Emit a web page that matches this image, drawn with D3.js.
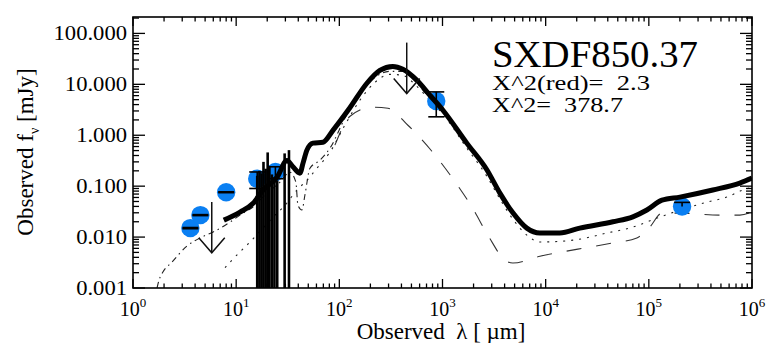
<!DOCTYPE html>
<html><head><meta charset="utf-8">
<script src="https://cdn.jsdelivr.net/npm/d3@7"></script>
<style>body{margin:0;background:#fff}svg{display:block}</style>
</head><body>
<svg id="c" width="766" height="343"></svg>
<script>
// ---------- data ----------
const xTicks = [1, 10, 100, 1000, 1e4, 1e5, 1e6];
const xTickExp = ["0","1","2","3","4","5","6"];
const yTicks = [0.001, 0.01, 0.1, 1, 10, 100];
const yTickLabels = ["0.001","0.010","0.100","1.000","10.000","100.000"];

// photometry (circles)
const photLambda = [3.6, 4.5, 8.0, 16, 24, 870, 2.1e5];
const photFlux   = [0.015, 0.027, 0.076, 0.14, 0.19, 4.7, 0.040];
const photErrHi  = [0.0004, 0.0006, 0.0015, 0.05, 0.05, 2.4, 0.008];
const photErrLo  = [0.0004, 0.0006, 0.0015, 0.05, 0.05, 2.4, 0];

// upper limits
const ulLambda = [5.8, 450];
const ulFlux   = [0.049, 66];

// IRS spectrum points
const specLambda = [16.0, 16.8, 17.6, 18.4, 19.3, 20.2, 21.0, 22.2, 23.5, 25.0, 29.5, 32.5];
const specFlux   = [0.07, 0.09, 0.08, 0.13, 0.10, 0.20, 0.11, 0.08, 0.07, 0.06, 0.20, 0.23];
const specErr    = [0.09, 0.11, 0.10, 0.17, 0.12, 0.26, 0.14, 0.09, 0.08, 0.07, 0.24, 0.28];

// total model (thick)
const totLambda = [7.6, 10.9, 14.6, 18.2, 24.9, 31.1, 35.5, 41.5, 44.4, 48.5, 55.5, 69.4, 86.7, 127, 185, 247, 330, 413, 565, 755, 1010, 1720, 2690, 3600, 4810, 6570, 8790, 13700, 21400, 44800, 70000, 95700, 134000, 200000, 417000, 762000, 1.0e6];
const totFlux   = [0.0215, 0.031, 0.046, 0.084, 0.15, 0.32, 0.24, 0.18, 0.28, 0.51, 0.70, 0.73, 1.25, 3.5, 10.5, 18.8, 22.5, 19.8, 12.0, 6.1, 3.1, 0.70, 0.21, 0.073, 0.030, 0.015, 0.012, 0.012, 0.015, 0.020, 0.025, 0.034, 0.053, 0.061, 0.084, 0.115, 0.144];

// dotted component
const dotLambda = [7.8, 9.3, 11.4, 13.6, 18.2, 23.8, 29.7, 38.8, 48.5, 60.7, 81.1, 113, 158, 221, 309, 413, 565, 755, 1010, 1720, 2690, 3600, 4810, 6570, 8790, 18400, 39200, 70000, 120000, 200000, 365000, 570000, 815000, 1.0e6];
const dotFlux   = [0.0025, 0.0037, 0.0056, 0.0080, 0.015, 0.027, 0.042, 0.084, 0.13, 0.225, 0.465, 1.57, 4.86, 10.9, 15.7, 15.0, 9.1, 4.9, 2.6, 0.56, 0.157, 0.056, 0.0225, 0.0109, 0.0080, 0.0087, 0.0120, 0.0157, 0.0236, 0.0338, 0.0485, 0.061, 0.084, 0.095];

// dashed component
const dashLambda = [90.6, 127, 207, 296, 462, 789, 1230, 1930, 2820, 4030, 4810, 8790, 20500, 43800, 76500, 102000, 134000, 200000, 487000, 762000, 1.0e6];
const dashFlux   = [0.64, 2.36, 3.54, 3.4, 1.57, 0.485, 0.150, 0.0387, 0.010, 0.00354, 0.0031, 0.0042, 0.0058, 0.0076, 0.0096, 0.0157, 0.0296, 0.0296, 0.027, 0.027, 0.031];

// dash-dot component
const ddLambda = [1.71, 1.79, 1.95, 2.39, 3.34, 4.46, 6.23, 8.71, 10.9, 15.2, 19.0, 26.6, 33.2, 37.9, 39.7, 43.4, 46.4, 51.9, 64.9, 81.1, 113, 158, 221, 309, 413, 565, 755, 1055];
const ddFlux   = [0.001, 0.00144, 0.00206, 0.00324, 0.0067, 0.0096, 0.0131, 0.0197, 0.027, 0.042, 0.067, 0.12, 0.188, 0.12, 0.042, 0.034, 0.067, 0.225, 0.324, 0.556, 2.15, 6.97, 13.7, 18.0, 18.0, 10.5, 5.3, 2.7];

const title = "SXDF850.37";
const chiRed = "X^2(red)=\u00a0\u00a02.3";
const chi = "X^2=\u00a0\u00a0378.7";

// ---------- drawing ----------
const FF = '"Liberation Serif", serif';
const svg = d3.select("#c");
const L = 133, R = 752, T = 17, B = 288;
const x = d3.scaleLog().domain([1, 1e6]).range([L, R]);
const y = d3.scaleLog().domain([0.001, 210]).range([B, T]).clamp(true);

svg.append("clipPath").attr("id","pc").append("rect")
  .attr("x", L).attr("y", T).attr("width", R-L).attr("height", B-T);
const plot = svg.append("g").attr("clip-path","url(#pc)");

const zip = (a,b) => a.map((v,i)=>[v,b[i]]);
const line = d3.line().x(d=>x(d[0])).y(d=>y(d[1])).curve(d3.curveMonotoneX);

plot.append("path").datum(zip(dashLambda,dashFlux)).attr("d",line)
  .attr("fill","none").attr("stroke","#333").attr("stroke-width",1.1).attr("stroke-dasharray","15,15");
plot.append("path").datum(zip(dotLambda,dotFlux)).attr("d",line)
  .attr("fill","none").attr("stroke","#222").attr("stroke-width",1.1).attr("stroke-dasharray","2,6");
plot.append("path").datum(zip(ddLambda,ddFlux)).attr("d",line)
  .attr("fill","none").attr("stroke","#222").attr("stroke-width",1.1).attr("stroke-dasharray","6,4,1.5,4");

// circles
plot.selectAll("circle.p").data(photLambda.map((l,i)=>({l,f:photFlux[i]}))).enter()
  .append("circle").attr("cx",d=>x(d.l)).attr("cy",d=>y(d.f)).attr("r",9.2).attr("fill","#0a7ff2");

// spectrum bars
plot.selectAll("line.s").data(specLambda.map((l,i)=>({l,f:specFlux[i],e:specErr[i]}))).enter()
  .append("line").attr("x1",d=>x(d.l)).attr("x2",d=>x(d.l))
  .attr("y1",d=>y(d.f+d.e)).attr("y2",d=>y(Math.max(d.f-d.e,1e-4)))
  .attr("stroke","#000").attr("stroke-width",2.6);

// total model
plot.append("path").datum(zip(totLambda,totFlux)).attr("d",line)
  .attr("fill","none").attr("stroke","#000").attr("stroke-width",5).attr("stroke-linejoin","round");

// error bars
const eb = plot.append("g").attr("stroke","#000").attr("stroke-width",1.6);
photLambda.forEach((l,i)=>{
  const cx = x(l), hi = y(photFlux[i]+photErrHi[i]), lo = y(photFlux[i]-photErrLo[i]);
  eb.append("line").attr("x1",cx).attr("x2",cx).attr("y1",hi).attr("y2",lo);
  eb.append("line").attr("x1",cx-8).attr("x2",cx+8).attr("y1",hi).attr("y2",hi);
  if (photErrLo[i] > 0) eb.append("line").attr("x1",cx-8).attr("x2",cx+8).attr("y1",lo).attr("y2",lo);
});

// upper limit arrows
const ar = plot.append("g").attr("stroke","#111").attr("stroke-width",1.5).attr("fill","none");
ulLambda.forEach((l,i)=>{
  const cx = x(l), top = y(ulFlux[i]), tip = y(ulFlux[i]/10);
  ar.append("line").attr("x1",cx).attr("x2",cx).attr("y1",top).attr("y2",tip);
  ar.append("path").attr("d",`M${cx-13},${tip-15}L${cx},${tip}L${cx+13},${tip-15}`);
});

// axes
const ax = svg.append("g").attr("stroke","#000").attr("stroke-width",1.3);
ax.append("rect").attr("x",L).attr("y",T).attr("width",R-L).attr("height",B-T).attr("fill","none").attr("stroke-width",1.6);
const xMinor = [], yMinor = [];
for (let e=0;e<6;e++) for (let m=2;m<10;m++) xMinor.push(m*Math.pow(10,e));
for (let e=-3;e<3;e++) for (let m=2;m<10;m++){ const v=m*Math.pow(10,e); if (v<=210) yMinor.push(v); }
const tk = (vals, len, horiz) => vals.forEach(v=>{
  if (horiz){ const px=x(v);
    ax.append("line").attr("x1",px).attr("x2",px).attr("y1",B).attr("y2",B-len);
    ax.append("line").attr("x1",px).attr("x2",px).attr("y1",T).attr("y2",T+len);
  } else { const py=y(v);
    ax.append("line").attr("x1",L).attr("x2",L+len).attr("y1",py).attr("y2",py);
    ax.append("line").attr("x1",R).attr("x2",R-len).attr("y1",py).attr("y2",py);
  }
});
tk(xTicks, 9, true); tk(xMinor, 4.5, true);
tk(yTicks, 12, false); tk(yMinor, 6, false);

function txt(parent){ return parent.append("text").style("font-family", FF).attr("fill","#000"); }

// y tick labels: fit to measured width of "100.000" (74px)
yTicks.forEach((v,i)=>{
  const t = txt(svg).attr("font-size",20).attr("text-anchor","end")
    .attr("x",127).attr("y",y(v)+6.8).text(yTickLabels[i]);
  const w = t.node().getComputedTextLength();
  t.attr("textLength", w*1.13).attr("lengthAdjust","spacingAndGlyphs");
});
// x tick labels
xTicks.forEach((v,i)=>{
  const t = txt(svg).attr("font-size",20).attr("x",x(v)).attr("y",316).attr("text-anchor","middle");
  t.append("tspan").text("10");
  t.append("tspan").attr("font-size",13).attr("dy",-9).text(xTickExp[i]);
});

// axis titles
txt(svg).attr("font-size",23).attr("text-anchor","middle")
  .attr("x",441).attr("y",339).text("Observed \u00a0\u03bb [ \u00b5m]");
const yt = txt(svg).attr("font-size",23).attr("text-anchor","middle")
  .attr("transform","translate(33,152) rotate(-90)");
yt.append("tspan").text("Observed f");
yt.append("tspan").attr("font-size",14).attr("dy",6).text("\u03bd");
yt.append("tspan").attr("dy",-6).text(" [mJy]");

// annotations
txt(svg).attr("x",492).attr("y",66.7).attr("font-size",38).text(title)
  .attr("textLength",206).attr("lengthAdjust","spacingAndGlyphs");
txt(svg).attr("x",492).attr("y",90).attr("font-size",22).text(chiRed)
  .attr("textLength",158).attr("lengthAdjust","spacingAndGlyphs");
txt(svg).attr("x",492).attr("y",111.7).attr("font-size",22).text(chi)
  .attr("textLength",131).attr("lengthAdjust","spacingAndGlyphs");
</script>
</body></html>
